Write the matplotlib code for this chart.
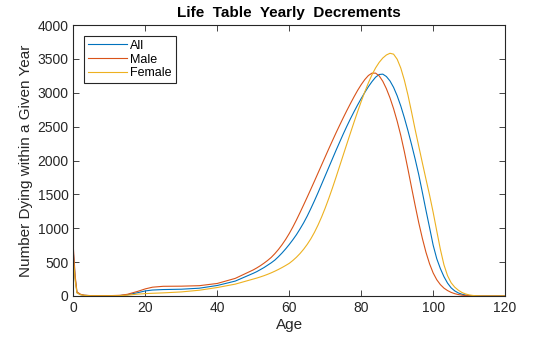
import numpy as np
import matplotlib
matplotlib.use("Agg")
import matplotlib.pyplot as plt

# ages shared by all three series (sparse in youth, yearly from 51)
ages = [0, 0.5, 1, 2, 3, 5, 10, 13, 15, 18, 20, 22, 25, 30, 35, 40, 45, 50] + \
       list(range(51, 115)) + [120]

all_deaths = [640, 265, 50, 20, 10, 4, 4, 7, 18, 50, 75, 88, 95, 100, 115, 155, 220, 335,
              360, 390, 420, 455, 490, 530, 580, 635, 695, 760,
              830, 905, 990, 1080, 1180, 1290, 1405, 1525, 1650, 1775,
              1900, 2025, 2150, 2270, 2390, 2505, 2615, 2720, 2820, 2915,
              3005, 3090, 3165, 3230, 3270, 3275, 3240, 3175, 3080, 2955,
              2805, 2630, 2440, 2235, 2020, 1790, 1530, 1265, 1010, 750,
              550, 405, 285, 190, 120, 75, 45, 26, 14, 7,
              3, 1, 0, 0, 0]

male_deaths = [710, 300, 60, 25, 12, 5, 5, 10, 25, 70, 105, 130, 143, 145, 152, 185, 260, 385,
               415, 448, 485, 525, 570, 625, 687, 757, 835, 922,
               1018, 1122, 1232, 1345, 1460, 1577, 1695, 1815, 1935, 2055,
               2175, 2292, 2408, 2520, 2630, 2737, 2840, 2940, 3035, 3120,
               3195, 3255, 3290, 3290, 3250, 3170, 3060, 2925, 2765, 2580,
               2370, 2130, 1870, 1600, 1335, 1080, 850, 645, 475, 340,
               240, 168, 116, 80, 53, 34, 21, 12, 6, 3,
               1, 0, 0, 0, 0]

female_deaths = [560, 230, 45, 18, 9, 3, 3, 5, 12, 28, 35, 40, 46, 60, 85, 125, 175, 250,
                 265, 282, 300, 320, 342, 366, 392, 420, 450, 482,
                 524, 572, 627, 690, 762, 844, 939, 1047, 1167, 1299,
                 1442, 1594, 1753, 1916, 2080, 2243, 2405, 2565, 2721, 2871,
                 3014, 3147, 3266, 3367, 3449, 3513, 3558, 3583, 3570, 3495,
                 3365, 3185, 2965, 2715, 2455, 2210, 1965, 1725, 1490, 1235,
                 960, 690, 460, 300, 195, 130, 85, 52, 30, 16,
                 8, 3, 1, 0, 0]

labels = ["All", "Male", "Female"]
colors = [(0, 0.447, 0.741), (0.85, 0.325, 0.098), (0.929, 0.694, 0.125)]

plt.rcParams['font.family'] = ['Liberation Sans', 'DejaVu Sans']

fig = plt.figure(figsize=(5.6, 3.37), dpi=100)
ax = fig.add_axes([0.131, 0.1217, 0.771, 0.804])

for ys, lab, c in zip([all_deaths, male_deaths, female_deaths], labels, colors):
    ax.plot(ages, ys, color=c, lw=0.8, label=lab)

ax.set_xlim(0, 120)
ax.set_ylim(0, 4000)
ax.set_xticks(np.arange(0, 121, 20))
ax.set_yticks(np.arange(0, 4001, 500))
ax.tick_params(direction='in', top=True, right=True, length=4, width=0.6,
               labelsize=10, colors='#262626')
for s in ax.spines.values():
    s.set_linewidth(0.8)
    s.set_color('#262626')

ax.set_xlabel("Age", fontsize=11, color='#262626', labelpad=2)
ax.set_ylabel("Number Dying within a Given Year", fontsize=11, color='#262626', labelpad=3)
ax.set_title("Life  Table  Yearly  Decrements", fontsize=11, fontweight='bold', pad=6)

leg = ax.legend(loc='upper left', bbox_to_anchor=(0.025, 0.96), fontsize=9,
                fancybox=False, framealpha=1, edgecolor='#262626',
                handlelength=3.1, handletextpad=0.3, borderpad=0.3, labelspacing=0.15,
                borderaxespad=0)
leg.get_frame().set_linewidth(0.8)

fig.savefig("out.png", dpi=100)
